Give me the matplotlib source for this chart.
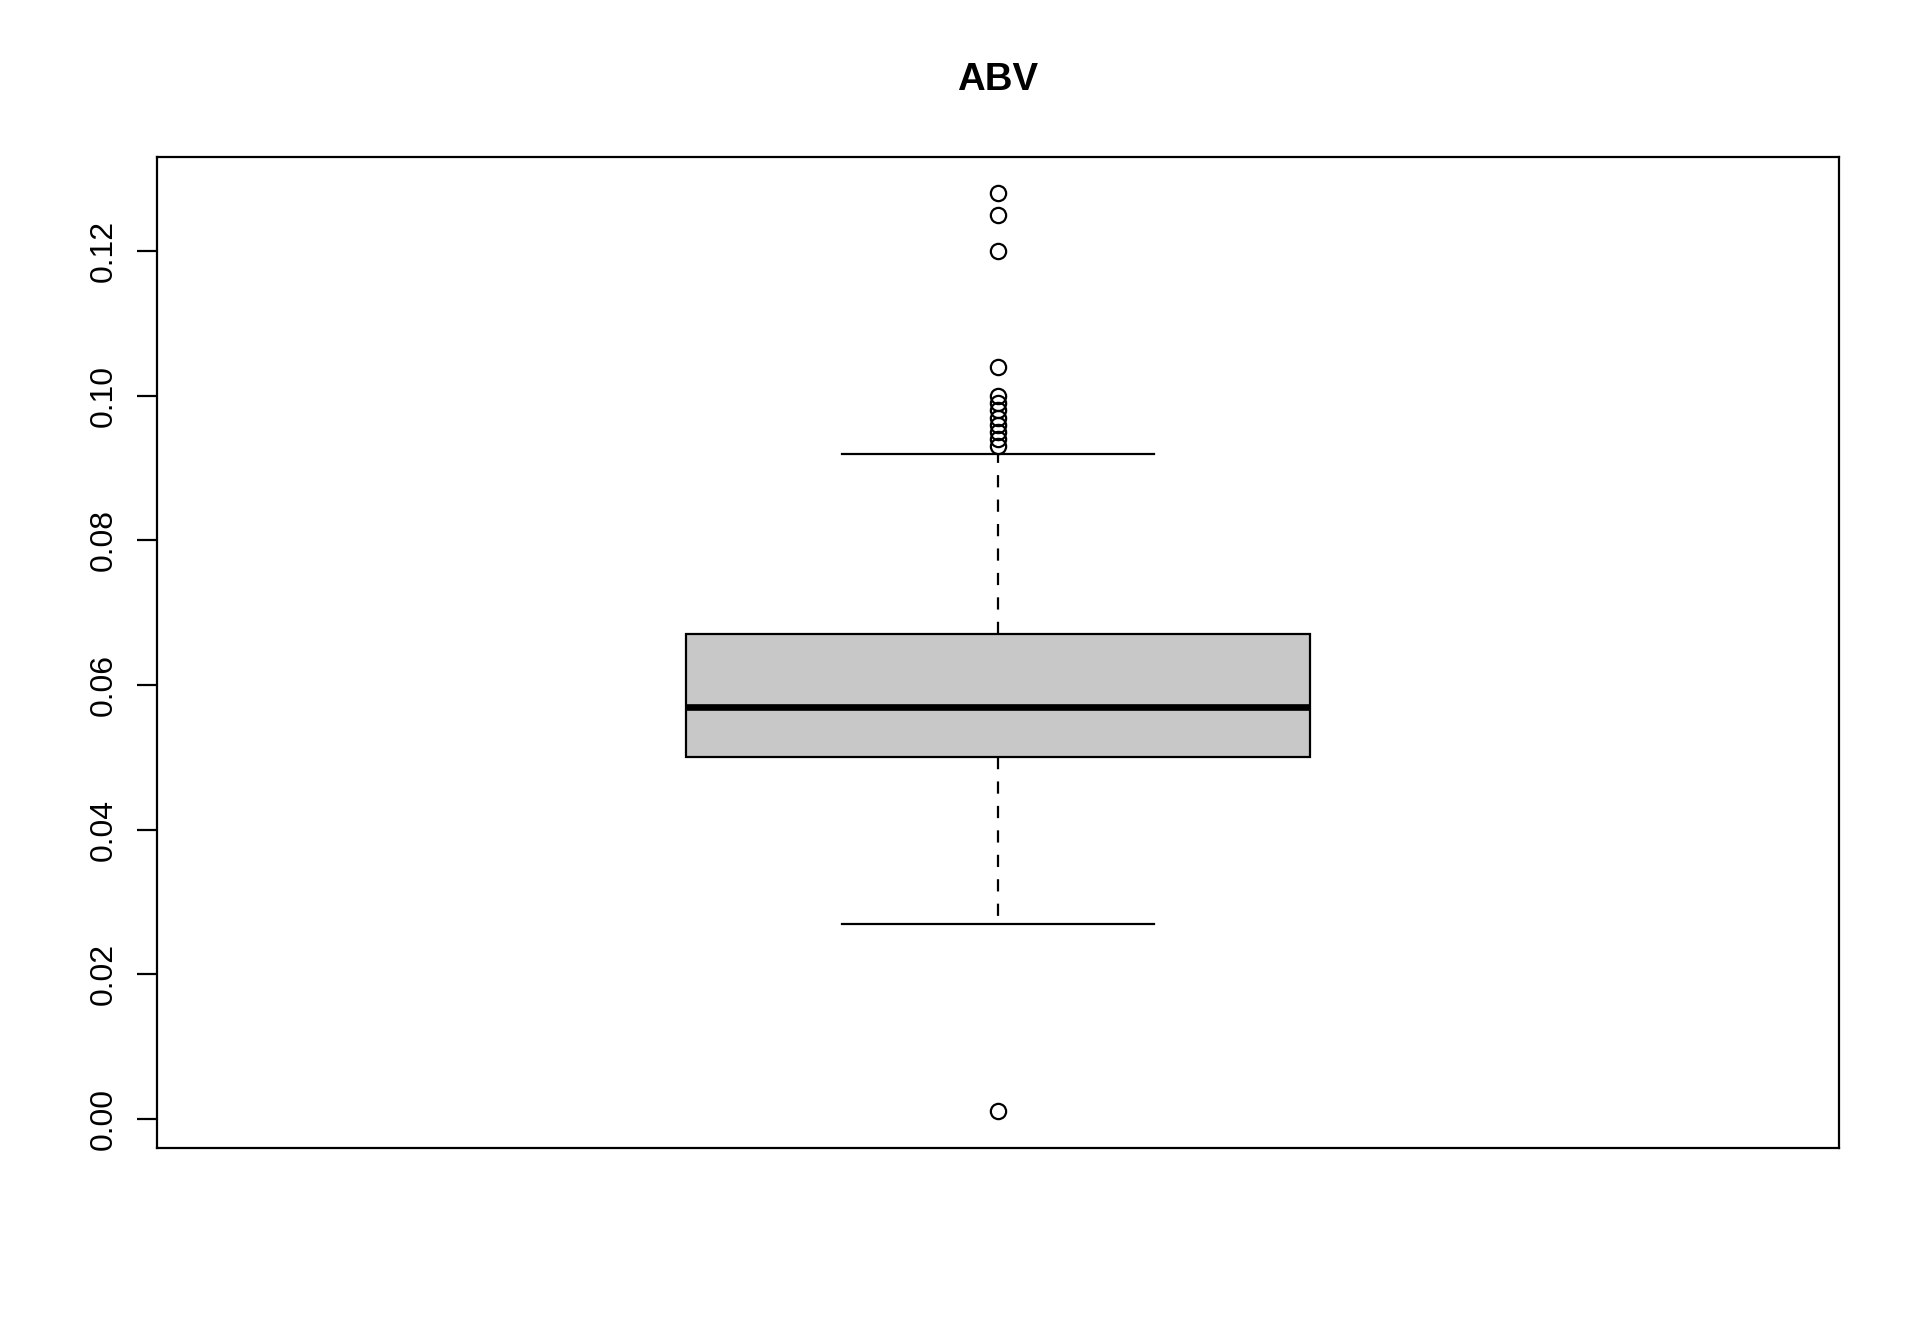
import matplotlib
matplotlib.use("Agg")
import matplotlib.pyplot as plt

plt.rcParams['font.family'] = ['Liberation Sans', 'DejaVu Sans']

# summary stats of the ABV column
q1 = 0.050
median = 0.057
q3 = 0.067
whisker_low = 0.027
whisker_high = 0.092
outliers_high = [0.093, 0.094, 0.095, 0.096, 0.097, 0.098, 0.099, 0.100,
                 0.104, 0.120, 0.125, 0.128]
outliers_low = [0.001]
yticks = [0.00, 0.02, 0.04, 0.06, 0.08, 0.10, 0.12]

stats = [{
    'med': median, 'q1': q1, 'q3': q3,
    'whislo': whisker_low, 'whishi': whisker_high,
    'fliers': outliers_low + outliers_high,
}]

fig = plt.figure(figsize=(19.2, 13.44), dpi=100)
ax = fig.add_axes([0.0816, 0.1457, 0.8764, 0.7377])

lw = 1.6
ax.bxp(stats, positions=[1], widths=0.4, patch_artist=True,
       boxprops=dict(facecolor='#c8c8c8', edgecolor='black', linewidth=lw),
       medianprops=dict(color='black', linewidth=lw * 3, solid_capstyle='butt'),
       whiskerprops=dict(color='black', linewidth=lw, linestyle=(0, (5.5, 5.5))),
       capprops=dict(color='black', linewidth=lw),
       capwidths=0.2,
       flierprops=dict(marker='o', markerfacecolor='none', markeredgecolor='black',
                       markersize=11, markeredgewidth=lw))

ymin, ymax = min(outliers_low), max(outliers_high)
pad = (ymax - ymin) * 0.04
ax.set_ylim(ymin - pad, ymax + pad)
ax.set_xlim(0.46, 1.54)

ax.set_yticks(yticks)
ax.set_yticklabels([f'{v:.2f}' for v in yticks], rotation=90, va='center',
                   fontsize=23)
ax.tick_params(axis='y', length=14.4, width=lw, pad=13)
ax.set_xticks([])
for s in ax.spines.values():
    s.set_linewidth(lw)

fig.text(0.5198, 0.9405, 'ABV', ha='center', va='center',
         fontsize=27.6, fontweight='bold')

fig.savefig('out.png', dpi=100, facecolor='white')
